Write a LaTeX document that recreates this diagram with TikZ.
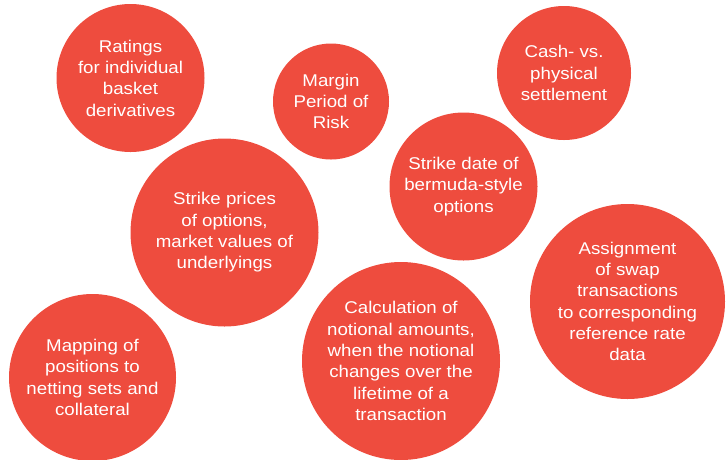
\documentclass[tikz,border=0pt]{standalone}
\usepackage{fontspec}
\setmainfont{Liberation Sans}[FakeStretch=1.1]
\usepackage{xcolor}
\definecolor{bubblered}{RGB}{238,76,62}

\begin{document}
\begin{tikzpicture}[x=1pt,y=-1pt,
    bubble/.style={circle,fill=bubblered,text=white,inner sep=0pt,align=center,
        font=\fontsize{17}{21.3}\selectfont}]
            \useasboundingbox (0,0) rectangle (728,459);
            \node[bubble,minimum size=148pt] (ratings) at (130.5,78) {Ratings\\for individual\\basket\\derivatives};
            \node[bubble,minimum size=116pt] (margin) at (331,101.5) {Margin\\Period of\\Risk};
            \node[bubble,minimum size=134pt] (cash) at (564,73) {Cash- vs.\\physical\\settlement};
            \node[bubble,minimum size=148pt] (strikedate) at (463.5,186.5) {Strike date of\\bermuda-style\\options};
            \node[bubble,minimum size=188pt] (strikeprices) at (224.5,232.5) {Strike prices\\of options,\\market values of\\underlyings};
            \node[bubble,minimum size=195pt] (assignment) at (627.5,301.5) {Assignment\\of swap\\transactions\\to corresponding\\reference rate\\data};
            \node[bubble,minimum size=167pt] (mapping) at (92.5,377.5) {Mapping of\\positions to\\netting sets and\\collateral};
            \node[bubble,minimum size=198pt] (notional) at (401,361) {Calculation of\\notional amounts,\\when the notional\\changes over the\\lifetime of a\\transaction};
        \end{tikzpicture}
\end{document}
